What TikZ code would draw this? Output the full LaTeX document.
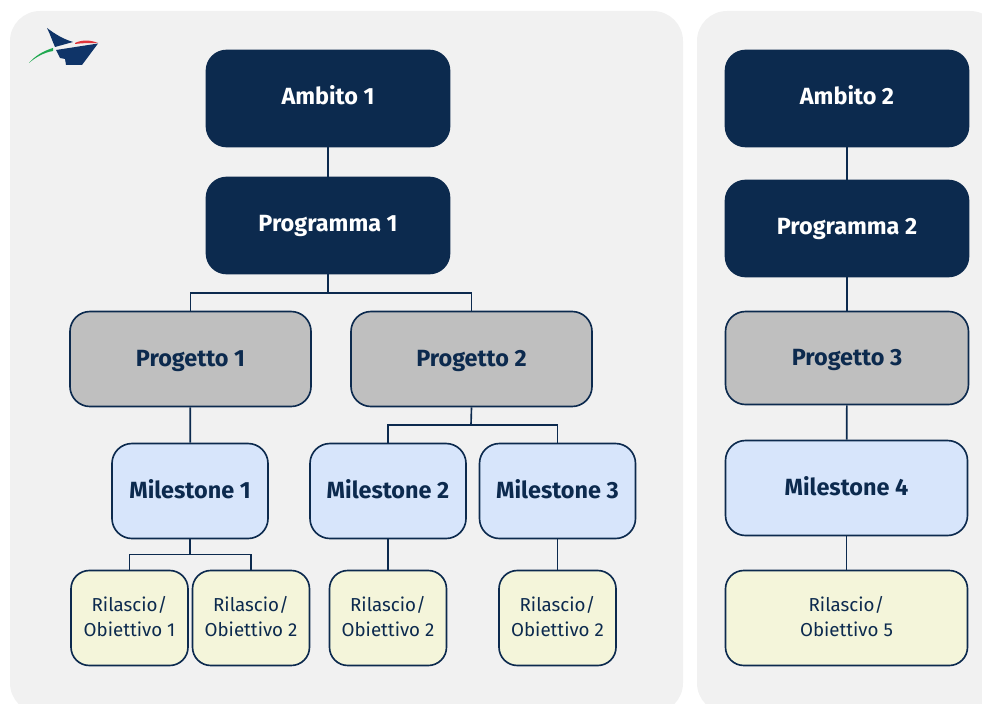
\documentclass[tikz,border=0pt]{standalone}
\usepackage{fontspec}
\setmainfont{Fira Sans}
\definecolor{navy}{HTML}{0C2A4E}
\definecolor{panelgray}{HTML}{F1F1F1}
\definecolor{boxgray}{HTML}{BFBFBF}
\definecolor{boxblue}{HTML}{D7E5FB}
\definecolor{boxyellow}{HTML}{F4F5DA}
\definecolor{logoblue}{HTML}{0F3468}
\definecolor{logored}{HTML}{E0343A}
\definecolor{logogreen}{HTML}{1FA84F}
\tikzset{
	panel/.style={fill=panelgray,draw=none},
	boldtext/.style={font=\fontsize{20}{24}\selectfont\bfseries,inner sep=0pt},
	ambitobox/.style={boldtext,text height=14pt,text depth=3.8pt,draw=navy,fill=navy,rounded corners=0.6cm,line width=1.4pt,minimum width=7.29cm,minimum height=2.88cm,text=white},
	progettobox/.style={boldtext,text height=15.4pt,text depth=2.4pt,draw=navy,fill=boxgray,rounded corners=0.6cm,line width=1.4pt,minimum width=7.23cm,minimum height=2.85cm,text=navy},
	milestonebox/.style={boldtext,text height=15.7pt,text depth=2.1pt,draw=navy,fill=boxblue,rounded corners=0.6cm,line width=1.4pt,minimum width=4.68cm,minimum height=2.85cm,text=navy},
	rilasciobox/.style={draw=navy,fill=boxyellow,rounded corners=0.55cm,line width=1.4pt,minimum width=3.51cm,minimum height=2.85cm,text=navy,align=center,font=\fontsize{16}{21.4}\selectfont,text depth=2.6pt,inner sep=0pt},
	link/.style={draw=navy,line width=1.4pt},
}
\begin{document}
\begin{tikzpicture}[x=0.03cm,y=-0.03cm]
		\clip (0,0) rectangle (982,704);
		
		\fill[panel,rounded corners=0.9cm] (10,11) rectangle (683,713); %left panel
		\fill[panel,rounded corners=0.9cm] (697,11) rectangle (1000,713); %right panel
		
		% logo
		\fill[logoblue] (47,28) .. controls (55,34) and (63,39) .. (73,42) -- (55,47) .. controls (52,40) and (50,34) .. (47,28) -- cycle; %sail
		\fill[logoblue] (56,50) -- (98,43.5) -- (82,65) -- (66,65) -- (65,59) -- (60,58) -- cycle; %hull
		\fill[logored] (75,43) .. controls (82,39.5) and (91,40) .. (98,43) .. controls (91,43) and (82,43) .. (75,44) -- cycle;
		\fill[logogreen] (29,63) .. controls (35,56) and (43,51) .. (53,48) -- (53,51) .. controls (44,52.5) and (36,57) .. (29,63) -- cycle;
		
		% left column
		\node[ambitobox] (amb1) at (328,98.5) {Ambito 1};
		\node[ambitobox] (prg1) at (328,225.5) {Programma 1};
		\node[progettobox] (pgt1) at (190.5,359) {Progetto 1};
		\node[progettobox] (pgt2) at (471.5,359) {Progetto 2};
		\node[milestonebox] (mil1) at (190,491) {Milestone 1};
		\node[milestonebox] (mil2) at (388,491) {Milestone 2};
		\node[milestonebox] (mil3) at (557.5,491) {Milestone 3};
		\node[rilasciobox] (ril1) at (129.5,618) {Rilascio/\\Obiettivo 1};
		\node[rilasciobox] (ril2) at (251,618) {Rilascio/\\Obiettivo 2};
		\node[rilasciobox] (ril3) at (388,618) {Rilascio/\\Obiettivo 2};
		\node[rilasciobox] (ril4) at (557.5,618) {Rilascio/\\Obiettivo 2};
		
		% right column
		\node[ambitobox] (amb2) at (847,98.5) {Ambito 2};
		\node[ambitobox] (prg2) at (847,228.5) {Programma 2};
		\node[progettobox,minimum width=7.29cm,minimum height=2.79cm] (pgt3) at (847,358) {Progetto 3};
		\node[milestonebox,minimum width=7.26cm] (mil4) at (846.5,488) {Milestone 4};
		\node[rilasciobox,minimum width=7.26cm] (ril5) at (846.5,618) {Rilascio/\\Obiettivo 5};
		
		% junctions
		\coordinate (jprg) at (328,293);
		\coordinate (jpgt) at (471,425);
		\coordinate (jmil) at (190,554.5);
		
		\draw[link] (amb1) -- (prg1);
		\draw[link] (prg1) -- (jprg);
		\draw[link] (pgt1.north) |- (jprg) -| (pgt2.north);
		\draw[link] (pgt1) -- (mil1);
		\draw[link] (pgt2.south) -- (jpgt);
		\draw[link] (mil2.north) |- (jpgt) -| (mil3.north);
		\draw[link] (mil1) -- (jmil);
		\draw[link] (ril1.north) |- (jmil) -| (ril2.north);
		\draw[link] (mil2) -- (ril3);
		\draw[link] (mil3) -- (ril4);
		
		\draw[link] (amb2) -- (prg2);
		\draw[link] (prg2) -- (pgt3);
		\draw[link] (pgt3) -- (mil4);
		\draw[link] (mil4) -- (ril5);
\end{tikzpicture}
\end{document}
